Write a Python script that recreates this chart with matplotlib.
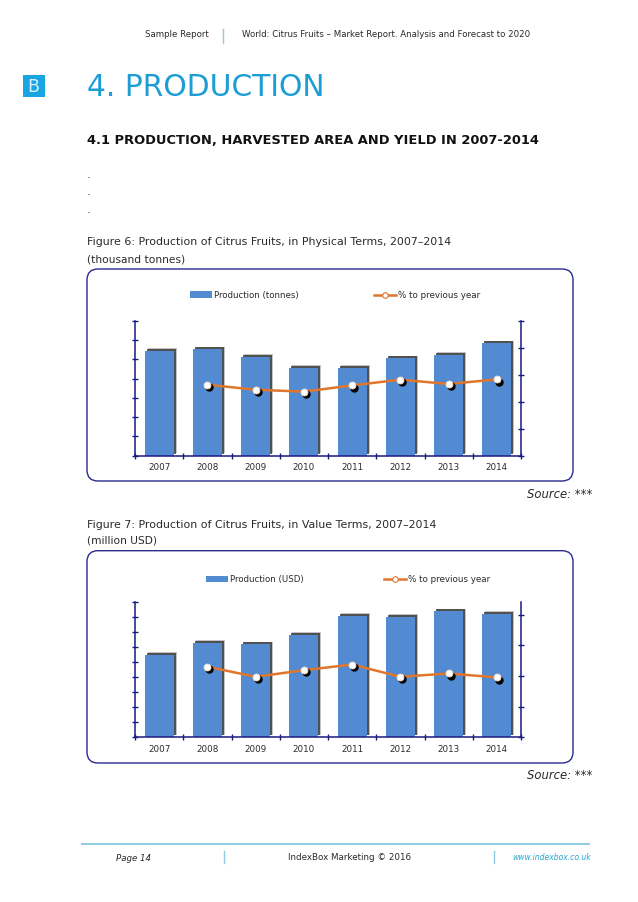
import matplotlib
matplotlib.use('Agg')
import matplotlib.pyplot as plt
import matplotlib.patheffects as pe
from matplotlib.patches import FancyBboxPatch, Rectangle
from matplotlib.lines import Line2D
from matplotlib.transforms import ScaledTranslation

W, H = 638, 903

years = ['2007', '2008', '2009', '2010', '2011', '2012', '2013', '2014']

# values, no scale is printed so units are tick steps
tonnes = [5.44, 5.53, 5.13, 4.56, 4.55, 5.06, 5.24, 5.83]
tonnes_pct = [None, 65.7, 61.1, 59.3, 65.1, 70.4, 66.4, 70.7]
usd = [5.49, 6.29, 6.22, 6.84, 8.11, 8.04, 8.42, 8.24]
usd_pct = [None, 57.5, 49.3, 54.7, 59.3, 49.3, 52.0, 48.8]

BLUE = '#538bd3'
NAVY = '#1a1a80'
ORANGE = '#e0762c'
TEAL = '#1c9dd4'
LIGHT = '#8fcbe0'
TEXT = '#2a2a2a'

fig = plt.figure(figsize=(W / 100, H / 100), dpi=100)
page = fig.add_axes([0, 0, 1, 1])
page.set_xlim(0, W)
page.set_ylim(H, 0)
page.axis('off')


def add_chart(box_top, box_bottom, ax_top, ax_bottom, vals, pct, left_max, right_max,
              right_step, bar_label, bar_leg_x, line_leg_x, leg_y):
    box = FancyBboxPatch((87, box_top), 486, box_bottom - box_top,
                         boxstyle='round,pad=0,rounding_size=11',
                         fc='white', ec='#2a2a90', lw=1)
    page.add_patch(box)

    ax = fig.add_axes([135 / W, 1 - ax_bottom / H, 386 / W, (ax_bottom - ax_top) / H])
    ax.patch.set_visible(False)
    x = list(range(len(years)))
    shadow = [pe.SimplePatchShadow(offset=(2.2, 1.8), shadow_rgbFace='#555555', alpha=0.35),
              pe.SimplePatchShadow(offset=(1.5, 1.3), shadow_rgbFace='#2b2b2b', alpha=0.75),
              pe.Normal()]
    ax.bar(x, vals, width=0.6, color=BLUE, path_effects=shadow, zorder=2)
    ax.set_xlim(-0.5, 7.5)
    ax.set_ylim(0, left_max)
    ax.set_yticks(range(left_max + 1))
    ax.set_yticklabels([])
    ax.set_xticks([i - 0.5 for i in range(9)])
    ax.set_xticklabels([])
    ax.tick_params(axis='both', length=4.5, width=1, color=NAVY, direction='inout')
    for i, y in enumerate(years):
        ax.text(i, -0.08, y, transform=ax.get_xaxis_transform(), ha='center', va='center',
                fontsize=6.3, color=TEXT)
    for s in ['top', 'right']:
        ax.spines[s].set_visible(False)
    for s in ['left', 'bottom']:
        ax.spines[s].set_color(NAVY)
        ax.spines[s].set_linewidth(1.1)

    ax2 = ax.twinx()
    ax2.patch.set_visible(False)
    ax2.set_ylim(0, right_max)
    ax2.set_yticks(range(0, right_max + 1, right_step))
    ax2.set_yticklabels([])
    ax2.tick_params(axis='y', length=4.5, width=1, color=NAVY, direction='inout')
    for s in ['top', 'left', 'bottom']:
        ax2.spines[s].set_visible(False)
    ax2.spines['right'].set_color(NAVY)
    ax2.spines['right'].set_linewidth(1.1)
    ax2.plot(x[1:], pct[1:], color=ORANGE, lw=1.8, zorder=3)
    ax2.plot(x[1:], pct[1:], ls='none', marker='o', ms=5, mfc='black', mec='black', zorder=4,
             transform=ax2.transData + ScaledTranslation(1.5 / 72, -1.6 / 72, fig.dpi_scale_trans))
    ax2.plot(x[1:], pct[1:], ls='none', marker='o', ms=5, mfc='white', mec='#f3dcc8', mew=0.6, zorder=5)

    # hand made legend, the original spaces it wide across the box
    page.add_patch(Rectangle((bar_leg_x, leg_y - 3.3), 22, 6.7, fc=BLUE, ec='none'))
    page.text(bar_leg_x + 24, leg_y, bar_label, fontsize=6.25, va='center', color=TEXT)
    page.add_line(Line2D([line_leg_x, line_leg_x + 22], [leg_y, leg_y], color=ORANGE, lw=1.8))
    page.plot([line_leg_x + 11], [leg_y], marker='o', ms=4, mfc='white', mec=ORANGE, mew=0.8)
    page.text(line_leg_x + 24, leg_y, '% to previous year', fontsize=6.35, va='center', color=TEXT)


# header
page.text(177, 34.5, 'Sample Report', fontsize=6.2, ha='center', va='center', color=TEXT)
page.text(386, 34.5, 'World: Citrus Fruits – Market Report. Analysis and Forecast to 2020',
          fontsize=6.25, ha='center', va='center', color=TEXT)
page.plot([222.5, 222.5], [30, 44], color=LIGHT, lw=1)
page.add_patch(Rectangle((23, 76), 21.5, 22, fc='#19a5e2', ec='none'))
page.text(33.7, 87, 'B', fontsize=12.5, color='#d8f0fb', ha='center', va='center')
page.text(87, 87, '4. PRODUCTION', fontsize=21.4, color=TEAL, va='center')
page.text(87, 141, '4.1 PRODUCTION, HARVESTED AREA AND YIELD IN 2007-2014',
          fontsize=9.38, fontweight='bold', va='center', color='#111111')
for y in [178, 195.5, 213]:
    page.text(87, y, '.', fontsize=8, va='baseline', color=TEXT)

page.text(87, 242.5, 'Figure 6: Production of Citrus Fruits, in Physical Terms, 2007–2014',
          fontsize=7.9, va='center', color=TEXT)
page.text(87, 259.5, '(thousand tonnes)', fontsize=7.7, va='center', color=TEXT)
add_chart(270, 482, 321.7, 456.7, tonnes, tonnes_pct, 7, 125, 25,
          'Production (tonnes)', 189.5, 374, 295.7)
page.text(592, 495, 'Source: ***', fontsize=8.4, style='italic', ha='right', va='center', color=TEXT)

page.text(87, 525, 'Figure 7: Production of Citrus Fruits, in Value Terms, 2007–2014',
          fontsize=7.9, va='center', color=TEXT)
page.text(87, 541, '(million USD)', fontsize=7.7, va='center', color=TEXT)
add_chart(551.7, 764, 603.3, 738.3, usd, usd_pct, 9, 110, 25,
          'Production (USD)', 206, 384, 580)
page.text(592, 775.5, 'Source: ***', fontsize=8.4, style='italic', ha='right', va='center', color=TEXT)

# footer
page.plot([82, 589], [845.5, 845.5], color=LIGHT, lw=1.4)
page.text(116, 859, 'Page 14', fontsize=6.2, style='italic', va='center', color=TEXT)
page.text(350, 858, 'IndexBox Marketing © 2016', fontsize=6.3, ha='center', va='center', color=TEXT)
page.text(512, 857.5, 'www.indexbox.co.uk', fontsize=5.5, style='italic', va='center', color='#2aa5cc')
page.plot([223.5, 223.5], [852, 864], color=LIGHT, lw=1)
page.plot([493.5, 493.5], [852, 864], color=LIGHT, lw=1)

fig.savefig('out.png', dpi=100)
